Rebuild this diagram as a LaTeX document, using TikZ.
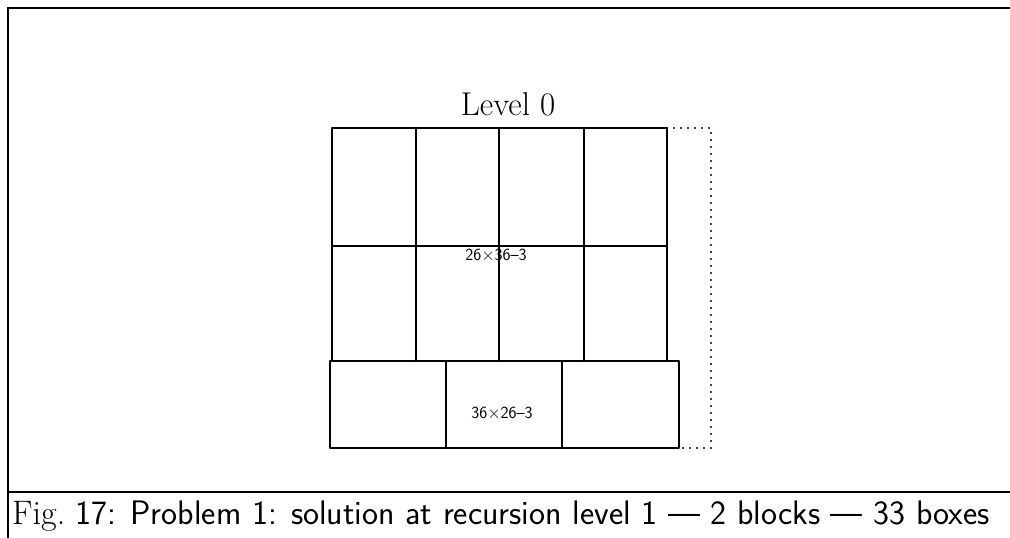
\documentclass[tikz,border=0pt]{standalone}
\usepackage{amssymb}
\begin{document}
\begin{tikzpicture}[x=1pt,y=-1pt,
  solidline/.style={line width=2pt,line cap=round,line join=round},
  dottedline/.style={line width=2.2pt,line cap=round,dash pattern=on 0pt off 7pt},
  framerule/.style={line width=1.8pt},
  boxlabel/.style={font=\fontsize{17}{17}\sffamily,inner sep=0pt}]
\useasboundingbox (0,0) rectangle (1010,538);

% outer frame and caption rule
\draw[framerule] (1010,8) -- (8,8) -- (8,538);
\draw[framerule] (8,492) -- (1010,492);

% dotted outline of the enclosing area
\draw[dottedline] (667,128) -- (711,128) -- (711,448) -- (679,448);

% upper block: 4 x 2 boxes
\draw[solidline] (332,128) rectangle (667,361);
\foreach \x in {416,499,584} \draw[solidline] (\x,128) -- (\x,361);
\draw[solidline] (332,246) -- (667,246);

% lower block: 3 boxes
\draw[solidline] (330,361) rectangle (679,448);
\foreach \x in {446,562} \draw[solidline] (\x,361) -- (\x,448);

% texts
\node[font=\fontsize{33}{33}\selectfont,anchor=base] (title) at (508,115) {Level 0};
\node[boxlabel,anchor=north] (upper) at (496,249) {26$\times$36--3};
\node[boxlabel] (lower) at (502,414) {36$\times$26--3};
\node[anchor=base west,inner sep=0pt,font=\fontsize{34}{34}\selectfont] (caption) at (12,524)
  {Fig.\ \sffamily 17: Problem 1: solution at recursion level 1 --- 2 blocks --- 33 boxes};
\end{tikzpicture}
\end{document}
